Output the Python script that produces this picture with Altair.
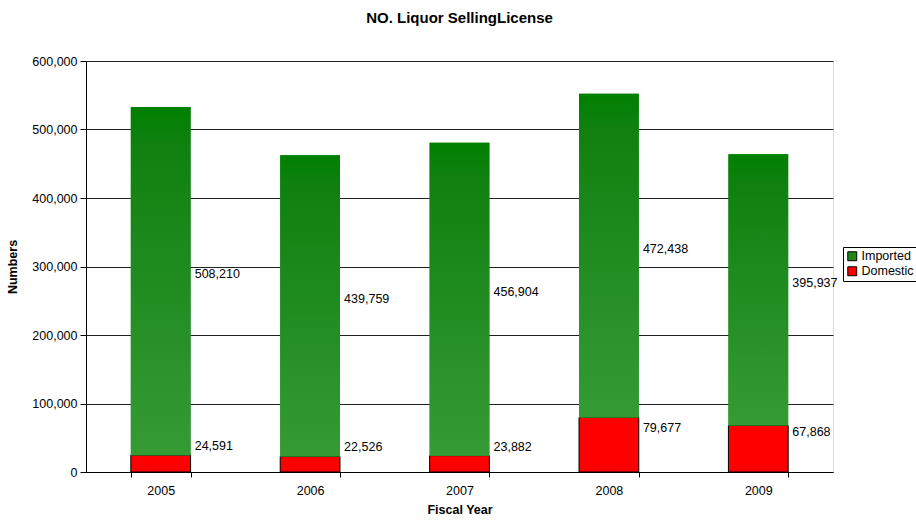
import altair as alt
import pandas as pd

years = ["2005", "2006", "2007", "2008", "2009"]
domestic = [24591, 22526, 23882, 79677, 67868]
imported = [508210, 439759, 456904, 472438, 395937]
series_names = ["Imported", "Domestic"]
y_ticks = [0, 100000, 200000, 300000, 400000, 500000, 600000]

rows = []
for yr, d, i in zip(years, domestic, imported):
    rows.append({"year": yr, "series": "Domestic", "value": d, "start": 0, "end": d,
                 "label_y": d / 2 + 25000})
    rows.append({"year": yr, "series": "Imported", "value": i, "start": d, "end": d + i,
                 "label_y": d + i / 2 + 10000})
df = pd.DataFrame(rows)

FONT = "Liberation Sans"
FS = 12.5

x_enc = alt.X("year:N", title="Fiscal Year",
              scale=alt.Scale(paddingInner=0.6, paddingOuter=0.3),
              axis=alt.Axis(labelAngle=0, tickBand="extent", labelFontSize=FS,
                            titleFontSize=12.5, titleFontWeight="bold", labelPadding=7,
                            titlePadding=7, domainColor="black", tickColor="black",
                            tickSize=5, labelColor="black", titleColor="black"))
y_scale = alt.Scale(domain=[0, 600000], nice=False)
y_axis = alt.Axis(values=y_ticks, format=",.0f", labelFontSize=FS, titleFontSize=12.5,
                  titleFontWeight="bold", grid=True, gridColor="#222222",
                  domainColor="black", tickColor="black", tickSize=6,
                  labelColor="black", titleColor="black", titlePadding=12, labelPadding=3)

base = alt.Chart(df)

bars = base.mark_bar(strokeWidth=1).encode(
    x=x_enc,
    y=alt.Y("start:Q", title="Numbers", scale=y_scale, axis=y_axis),
    y2="end:Q",
    color=alt.Color("series:N", sort=series_names,
                    scale=alt.Scale(domain=series_names, range=["#1b8a1b", "#ff0000"]),
                    legend=alt.Legend(title=None, orient="none", legendX=757, legendY=186,
                                      strokeColor="black", padding=3, symbolType="square",
                                      symbolSize=80, symbolStrokeColor="black",
                                      symbolStrokeWidth=1, labelFontSize=FS,
                                      labelColor="black", rowPadding=1, labelOffset=3,
                                      labelFont=FONT)),
    stroke=alt.condition(alt.datum.series == "Domestic", alt.value("black"),
                         alt.value("transparent")),
)

green_grad = alt.Gradient(
    gradient="linear",
    stops=[alt.GradientStop(color="#008000", offset=0),
           alt.GradientStop(color="#0f800f", offset=0.1),
           alt.GradientStop(color="#359b35", offset=1)],
    x1=0, x2=0, y1=0, y2=1,
)

imp_bars = base.transform_filter(alt.datum.series == "Imported").mark_bar(
    color=green_grad).encode(
    x="year:N", y=alt.Y("start:Q", scale=y_scale), y2="end:Q")

labels = base.mark_text(align="left", baseline="middle", xOffset=34, fontSize=FS,
                        font=FONT, color="black").encode(
    x="year:N",
    y=alt.Y("label_y:Q", scale=y_scale),
    text=alt.Text("value:Q", format=","),
)

chart = alt.layer(bars, imp_bars, labels).properties(
    width=747, height=411,
    title=alt.TitleParams("NO. Liquor SellingLicense", fontSize=15, font=FONT,
                          fontWeight="bold", color="black", anchor="middle", offset=29),
    autosize=alt.AutoSizeParams(type="none"),
    padding={"left": 86, "top": 61, "right": 83, "bottom": 49},
).configure_view(stroke="#888888", strokeWidth=1).configure_axis(
    labelFont=FONT, titleFont=FONT
).configure(background="white")

chart.save("out.html", embed_options={"renderer": "svg", "actions": False})
